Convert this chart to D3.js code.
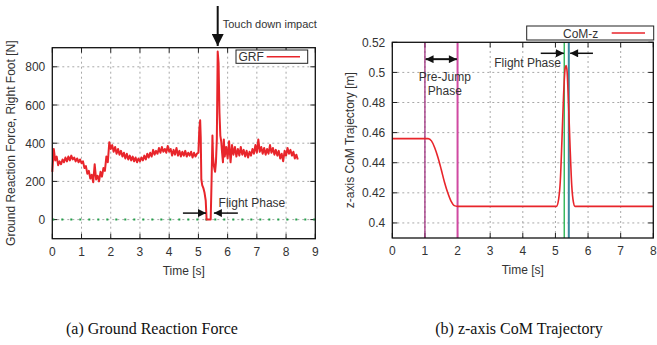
<!DOCTYPE html>
<html>
<head>
<meta charset="utf-8">
<script src="https://cdn.jsdelivr.net/npm/d3@7"></script>
<style>
  body { margin: 0; background: #fff; }
  svg text { font-family: "Liberation Sans", Arial, sans-serif; }
  svg text.caption { font-family: "Liberation Serif", "Times New Roman", serif; }
</style>
</head>
<body>
<div id="container"></div>
<script>
// ---- data ----
// GRF, sampled every 0.05 s from 0 to 4.95 s
var grfStep = 0.05
var grfForceA = [250, 370, 310, 330, 285, 305, 290, 315, 300, 325,
  305, 330, 310, 335, 315, 325, 305, 320, 300, 315,
  295, 305, 270, 280, 240, 255, 215, 235, 195, 290,
  210, 230, 200, 250, 225, 270, 255, 330, 300, 405,
  370, 390, 355, 380, 345, 370, 340, 360, 330, 350,
  320, 345, 315, 335, 310, 330, 305, 325, 300, 320,
  305, 325, 310, 335, 315, 345, 325, 350, 330, 365,
  340, 360, 345, 375, 350, 380, 355, 370, 350, 385,
  355, 370, 335, 365, 340, 375, 335, 360, 330, 355,
  335, 360, 330, 350, 335, 355, 325, 350, 330, 345]
// jump / flight / landing part
var grfJumpTime = [5.00, 5.03, 5.06, 5.08, 5.10, 5.13, 5.17, 5.21, 5.25, 5.28, 5.42, 5.45, 5.48,
  5.50, 5.53, 5.57, 5.60, 5.63, 5.66, 5.69, 5.72, 5.75, 5.78, 5.81, 5.84, 5.87, 5.90]
var grfJumpForce = [350, 470, 520, 430, 210, 180, 165, 140, 100, 0, 0, 200, 440,
  330, 280, 250, 300, 420, 880, 820, 560, 440, 410, 350, 300, 420, 330]
// GRF every 0.05 s from 5.95 to 8.40 s
var grfStartB = 5.95
var grfForceB = [380, 320, 410, 300, 390, 340, 380, 330, 370, 335,
  380, 340, 365, 330, 360, 325, 355, 335, 370, 345,
  390, 350, 420, 355, 380, 345, 375, 340, 370, 345,
  390, 350, 375, 340, 365, 335, 360, 320, 345, 305,
  360, 335, 375, 345, 365, 335, 355, 320, 340, 315]

// CoM z trajectory
var comTime = [0, 1.10, 1.20, 1.30, 1.40, 1.50, 1.60, 1.70, 1.80, 1.90, 2.00,
  5.03, 5.10, 5.15, 5.20, 5.25, 5.30, 5.33, 5.36, 5.40, 5.45, 5.50, 5.55, 5.60, 8.00]
var comZ = [0.456, 0.456, 0.4545, 0.450, 0.4435, 0.4355, 0.427, 0.420, 0.4145, 0.4115, 0.411,
  0.411, 0.416, 0.428, 0.455, 0.485, 0.503, 0.5045, 0.500, 0.480, 0.450, 0.425, 0.414, 0.411, 0.411]

var grfTicksX = d3.range(0, 10)
var grfTicksY = [0, 200, 400, 600, 800]
var comTicksX = d3.range(0, 9)
var comTicksY = [0.4, 0.42, 0.44, 0.46, 0.48, 0.5, 0.52]

var prePhase = [1, 2]          // magenta lines
var flightPhase = [5.27, 5.41] // green / teal lines

// build GRF series
var grf = []
grfForceA.forEach(function(v, i) { grf.push([i * grfStep, v]) })
grfJumpTime.forEach(function(t, i) { grf.push([t, grfJumpForce[i]]) })
grfForceB.forEach(function(v, i) { grf.push([grfStartB + i * grfStep, v]) })
var com = comTime.map(function(t, i) { return [t, comZ[i]] })

var width = 657
var height = 345
var red = "#e8252b"

var svg = d3.select("#container")
  .append("svg")
  .attr("width", width)
  .attr("height", height)

var defs = svg.append("defs")
defs.append("marker")
  .attr("id", "head")
  .attr("viewBox", "0 0 10 10")
  .attr("refX", 10).attr("refY", 5)
  .attr("markerWidth", 10).attr("markerHeight", 8)
  .attr("markerUnits", "userSpaceOnUse")
  .attr("orient", "auto-start-reverse")
  .append("path")
  .attr("d", "M0,0 L10,5 L0,10 Z")
  .attr("fill", "#111")
defs.append("marker")
  .attr("id", "bighead")
  .attr("viewBox", "0 0 10 10")
  .attr("refX", 10).attr("refY", 5)
  .attr("markerWidth", 13).attr("markerHeight", 12)
  .attr("markerUnits", "userSpaceOnUse")
  .attr("orient", "auto")
  .append("path")
  .attr("d", "M0,0 L10,5 L0,10 Z")
  .attr("fill", "#111")

// draws frame, grid, ticks and labels for one panel
function panel(x, y, ticksX, ticksY, fmtY, yTitle, yTitleX) {
  var g = svg.append("g")
  var x0 = x.range()[0], x1 = x.range()[1]
  var y0 = y.range()[0], y1 = y.range()[1]

  g.selectAll(".gx").data(ticksX.filter(function(t) { return x(t) > x0 + 1 && x(t) < x1 - 1 }))
    .enter().append("line")
    .attr("x1", d => x(d)).attr("x2", d => x(d))
    .attr("y1", y0).attr("y2", y1)
    .attr("stroke", "#a8a8a8").attr("stroke-width", 1)
    .attr("stroke-dasharray", "2,3")
  g.selectAll(".gy").data(ticksY.filter(function(t) { return y(t) < y0 - 1 && y(t) > y1 + 1 }))
    .enter().append("line")
    .attr("y1", d => y(d)).attr("y2", d => y(d))
    .attr("x1", x0).attr("x2", x1)
    .attr("stroke", "#a8a8a8").attr("stroke-width", 1)
    .attr("stroke-dasharray", "2,3")

  // inward ticks, mirrored
  ticksX.forEach(function(t) {
    g.append("line").attr("x1", x(t)).attr("x2", x(t)).attr("y1", y0).attr("y2", y0 - 5).attr("stroke", "#222")
    g.append("line").attr("x1", x(t)).attr("x2", x(t)).attr("y1", y1).attr("y2", y1 + 5).attr("stroke", "#222")
  })
  ticksY.forEach(function(t) {
    g.append("line").attr("y1", y(t)).attr("y2", y(t)).attr("x1", x0).attr("x2", x0 + 5).attr("stroke", "#222")
    g.append("line").attr("y1", y(t)).attr("y2", y(t)).attr("x1", x1).attr("x2", x1 - 5).attr("stroke", "#222")
  })

  g.selectAll(".lx").data(ticksX).enter().append("text")
    .attr("x", d => x(d)).attr("y", y0 + 17)
    .attr("text-anchor", "middle")
    .attr("font-size", 12).attr("fill", "#333")
    .text(d => d)
  g.selectAll(".ly").data(ticksY).enter().append("text")
    .attr("x", x0 - 7).attr("y", d => y(d) + 4.5)
    .attr("text-anchor", "end")
    .attr("font-size", 12).attr("fill", "#333")
    .text(fmtY)

  g.append("text")
    .attr("x", (x0 + x1) / 2).attr("y", y0 + 36)
    .attr("text-anchor", "middle")
    .attr("font-size", 12).attr("fill", "#333")
    .text("Time [s]")
  g.append("text")
    .attr("transform", "translate(" + yTitleX + "," + ((y0 + y1) / 2) + ") rotate(-90)")
    .attr("text-anchor", "middle")
    .attr("font-size", 12).attr("fill", "#333")
    .text(yTitle)
  return g
}

function frame(x, y) {
  svg.append("rect")
    .attr("x", x.range()[0]).attr("y", y.range()[1])
    .attr("width", x.range()[1] - x.range()[0])
    .attr("height", y.range()[0] - y.range()[1])
    .attr("fill", "none").attr("stroke", "#111").attr("stroke-width", 1.3)
}

function arrow(x1, y1, x2, y2, id, w) {
  svg.append("line")
    .attr("x1", x1).attr("y1", y1).attr("x2", x2).attr("y2", y2)
    .attr("stroke", "#111").attr("stroke-width", w || 1.5)
    .attr("marker-end", "url(#" + id + ")")
}

// ---------- (a) GRF ----------
var xA = d3.scaleLinear().domain([0, 9]).range([52.3, 315.3])
var yA = d3.scaleLinear().domain([-100, 900]).range([238.7, 47.7])

panel(xA, yA, grfTicksX, grfTicksY, d => d, "Ground Reaction Force, Right Foot [N]", 15)

// zero line
svg.append("line")
  .attr("x1", xA(0)).attr("x2", xA(9))
  .attr("y1", yA(0)).attr("y2", yA(0))
  .attr("stroke", "#22a04a").attr("stroke-width", 2)
  .attr("stroke-dasharray", "2,7")

var lineA = d3.line().x(d => xA(d[0])).y(d => yA(d[1]))
svg.append("path")
  .datum(grf)
  .attr("d", lineA)
  .attr("fill", "none")
  .attr("stroke", red)
  .attr("stroke-width", 2)
  .attr("stroke-linejoin", "round")

frame(xA, yA)

// legend
svg.append("rect").attr("x", 236).attr("y", 50).attr("width", 71.7).attr("height", 13.3)
  .attr("fill", "#fff").attr("stroke", "#222").attr("stroke-width", 1)
svg.append("text").attr("x", 238.5).attr("y", 61).attr("font-size", 12).attr("fill", "#333").text("GRF")
svg.append("line").attr("x1", 266.7).attr("x2", 300).attr("y1", 56.7).attr("y2", 56.7)
  .attr("stroke", red).attr("stroke-width", 1.6)

// touch down arrow
arrow(xA(5.66), 6, xA(5.66), 46, "bighead", 2)
svg.append("text").attr("x", xA(5.66) + 5).attr("y", 28).attr("font-size", 11).attr("fill", "#333")
  .text("Touch down impact")

// flight phase arrows
arrow(xA(4.47), yA(34), xA(5.26), yA(34), "head")
arrow(xA(6.35), yA(34), xA(5.53), yA(34), "head")
svg.append("text").attr("x", xA(5.69)).attr("y", 206.5).attr("font-size", 12).attr("fill", "#333")
  .text("Flight Phase")

// ---------- (b) CoM z ----------
var xB = d3.scaleLinear().domain([0, 8]).range([392.3, 653.3])
var yB = d3.scaleLinear().domain([0.39, 0.52]).range([238, 42.3])

panel(xB, yB, comTicksX, comTicksY, d => d3.format("")(+d.toFixed(2)), "z-axis CoM Trajectory [m]", 354)

var phaseColor = ["#a0307f", "#d04aa2"]
prePhase.forEach(function(t, i) {
  svg.append("line").attr("x1", xB(t)).attr("x2", xB(t)).attr("y1", yB(0.39)).attr("y2", yB(0.52))
    .attr("stroke", phaseColor[i]).attr("stroke-width", i ? 2 : 1.3)
})
var flightColor = ["#1fb04a", "#3a8a9e"]
flightPhase.forEach(function(t, i) {
  svg.append("line").attr("x1", xB(t)).attr("x2", xB(t)).attr("y1", yB(0.39)).attr("y2", yB(0.52))
    .attr("stroke", flightColor[i]).attr("stroke-width", i ? 2 : 1.3)
})

var lineB = d3.line().x(d => xB(d[0])).y(d => yB(d[1])).curve(d3.curveMonotoneX)
svg.append("path")
  .datum(com)
  .attr("d", lineB)
  .attr("fill", "none")
  .attr("stroke", red)
  .attr("stroke-width", 1.6)

frame(xB, yB)

// legend
svg.append("rect").attr("x", 526.7).attr("y", 26).attr("width", 127).attr("height", 14)
  .attr("fill", "#fff").attr("stroke", "#222").attr("stroke-width", 1)
svg.append("text").attr("x", 563).attr("y", 37.5).attr("font-size", 12).attr("fill", "#333").text("CoM-z")
svg.append("line").attr("x1", 611.7).attr("x2", 645).attr("y1", 33).attr("y2", 33)
  .attr("stroke", red).attr("stroke-width", 1.6)

// pre-jump double arrow
svg.append("line")
  .attr("x1", xB(1.02)).attr("x2", xB(1.98))
  .attr("y1", yB(0.5088)).attr("y2", yB(0.5088))
  .attr("stroke", "#111").attr("stroke-width", 2)
  .attr("marker-start", "url(#head)").attr("marker-end", "url(#head)")
svg.append("text").attr("x", xB(1.61)).attr("y", yB(0.4976) + 4.5).attr("text-anchor", "middle")
  .attr("font-size", 12).attr("fill", "#333").text("Pre-Jump")
svg.append("text").attr("x", xB(1.61)).attr("y", yB(0.4882) + 4.5).attr("text-anchor", "middle")
  .attr("font-size", 12).attr("fill", "#333").text("Phase")

// flight phase arrows
arrow(xB(4.55), yB(0.5127), xB(5.26), yB(0.5127), "head")
arrow(xB(6.15), yB(0.5127), xB(5.45), yB(0.5127), "head")
svg.append("text").attr("x", xB(5.17)).attr("y", yB(0.5064) + 4.5).attr("text-anchor", "end")
  .attr("font-size", 12).attr("fill", "#333").text("Flight Phase")

// ---------- captions ----------
svg.append("text").attr("class", "caption").attr("x", 152).attr("y", 334).attr("text-anchor", "middle")
  .attr("font-size", 16).attr("fill", "#111")
  .text("(a) Ground Reaction Force")
svg.append("text").attr("class", "caption").attr("x", 519).attr("y", 334).attr("text-anchor", "middle")
  .attr("font-size", 16).attr("fill", "#111")
  .text("(b) z-axis CoM Trajectory")
</script>
</body>
</html>
